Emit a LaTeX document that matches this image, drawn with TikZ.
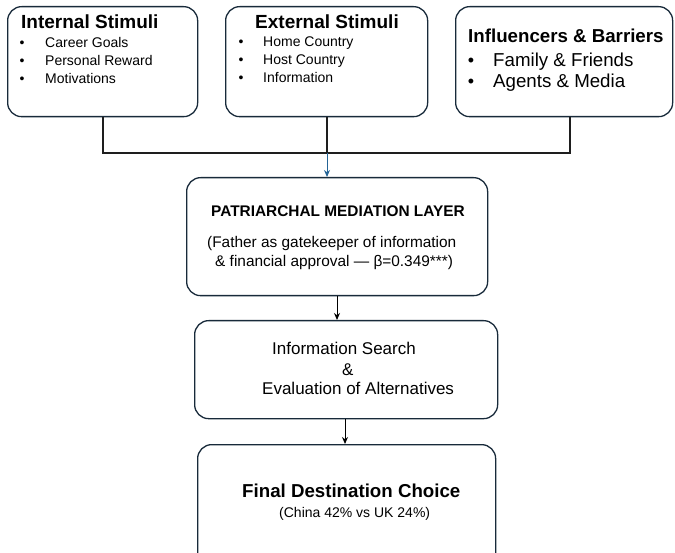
\documentclass[tikz,border=0pt]{standalone}
\usepackage{fontspec}
\setmainfont{Liberation Sans}
\usetikzlibrary{arrows.meta}
\definecolor{boxline}{RGB}{24,42,58}
\definecolor{arrowblue}{RGB}{36,100,150}
\definecolor{connline}{RGB}{30,30,30}
\tikzset{
  card/.style={draw=boxline, line width=1.3pt, rounded corners=14pt, anchor=north west, inner sep=0pt},
  txt/.style={anchor=base west, inner sep=0pt},
  ttl/.style={txt, font=\fontsize{19}{22}\selectfont\bfseries},
  itm/.style={txt, font=\fontsize{14}{16}\selectfont},
  bigitm/.style={txt, font=\fontsize{18.7}{22}\selectfont},
  dot/.style={anchor=base, inner sep=0pt, font=\fontsize{14}{16}\selectfont},
  bigdot/.style={anchor=base, inner sep=0pt, font=\fontsize{18}{20}\selectfont},
  conn/.style={line width=1.3pt, draw=connline},
  arr/.style={line width=1pt, -{Stealth[length=7pt,width=6pt]}},
}
\begin{document}
\begin{tikzpicture}[x=1pt,y=-1pt]
\useasboundingbox (0,0) rectangle (675,553);
\begin{scope}
\clip (0,0) rectangle (675,553);
% top boxes
\node[card, minimum width=190pt, minimum height=110pt] (b1) at (7,6) {};
\node[card, minimum width=202pt, minimum height=110pt] (b2) at (225,6) {};
\node[card, minimum width=217pt, minimum height=110pt] (b3) at (455,6) {};
% middle boxes
\node[card, minimum width=301pt, minimum height=118pt] (pm) at (186,177) {};
\node[card, minimum width=303pt, minimum height=98pt] (is) at (194,320) {};
\node[card, minimum width=298pt, minimum height=125pt] (fd) at (197,444) {};
\end{scope}
% box 1
\node[ttl] (t1) at (21,29) {Internal Stimuli};
\node[dot] (d11) at (22,47.5) {•};
\node[dot] (d12) at (22,65.5) {•};
\node[dot] (d13) at (22,83.5) {•};
\node[itm] (i11) at (45,47.5) {Career Goals};
\node[itm] (i12) at (45,65.5) {Personal Reward};
\node[itm] (i13) at (45,83.5) {Motivations};
% box 2
\node[ttl] (t2) at (255,29) {External Stimuli};
\node[dot] (d21) at (241,47) {•};
\node[dot] (d22) at (241,65) {•};
\node[dot] (d23) at (241,83) {•};
\node[itm] (i21) at (263,47) {Home Country};
\node[itm] (i22) at (263,65) {Host Country};
\node[itm] (i23) at (263,83) {Information};
% box 3
\node[ttl, font=\fontsize{18.7}{22}\selectfont\bfseries] (t3) at (468,43) {Influencers \& Barriers};
\node[bigdot] (d31) at (471,67) {•};
\node[bigdot] (d32) at (471,88) {•};
\node[bigitm] (i31) at (493,67) {Family \& Friends};
\node[bigitm] (i32) at (493,88) {Agents \& Media};
% patriarchal
\node[txt, font=\fontsize{15.4}{18}\selectfont\bfseries] (pt) at (211,217) {PATRIARCHAL MEDIATION LAYER};
\node[txt, font=\fontsize{15.4}{18}\selectfont] (p1) at (207,247.5) {(Father as gatekeeper of information};
\node[txt, font=\fontsize{15.4}{18}\selectfont] (p2) at (215,266.5) {\& financial approval — β=0.349***)};
% information search
\node[txt, font=\fontsize{17}{20}\selectfont] (s1) at (272,355) {Information Search};
\node[txt, font=\fontsize{17}{20}\selectfont] (s2) at (342,375) {\&};
\node[txt, font=\fontsize{17}{20}\selectfont] (s3) at (262,395) {Evaluation of Alternatives};
% final
\node[txt, font=\fontsize{18.7}{22}\selectfont\bfseries] (f1) at (242,497) {Final Destination Choice};
\node[txt, font=\fontsize{14}{16}\selectfont] (f2) at (279,517) {(China 42\% vs UK 24\%)};
% connectors
\coordinate (j) at (327,153);
\draw[conn] (b1.south -| 103,0) -- (103,153) -- (570,153) -- (b3.south -| 570,0);
\draw[conn] (b2.south -| j) -- (j);
\draw[arr, draw=arrowblue, fill=arrowblue] (j) -- (pm.north -| j);
\draw[arr] (pm.south -| 337,0) -- (is.north -| 337,0);
\draw[arr] (is.south -| 345,0) -- (fd.north -| 345,0);
\end{tikzpicture}
\end{document}
